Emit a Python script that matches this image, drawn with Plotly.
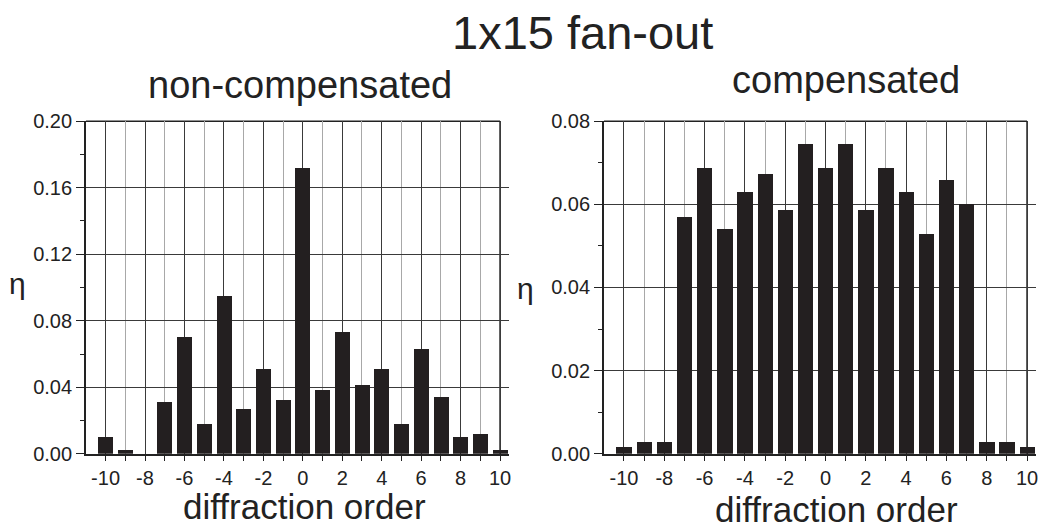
import plotly.graph_objects as go

# ---- data ----
orders = list(range(-10, 11))
eta_noncomp = [0.010, 0.002, 0.000, 0.031, 0.070, 0.018, 0.095, 0.027, 0.051, 0.032,
               0.172, 0.038, 0.073, 0.041, 0.051, 0.018, 0.063, 0.034, 0.010, 0.012, 0.002]
eta_comp = [0.0015, 0.0029, 0.0029, 0.0570, 0.0688, 0.0541, 0.0629, 0.0673, 0.0585, 0.0745,
            0.0688, 0.0745, 0.0585, 0.0688, 0.0629, 0.0527, 0.0658, 0.0600, 0.0029, 0.0029, 0.0015]
x_ticks = [-10, -8, -6, -4, -2, 0, 2, 4, 6, 8, 10]
x_min, x_frame, x_max = -11, 10, 10.45

W, H = 1047, 529
FONT = "Liberation Sans, Arial, Helvetica, sans-serif"
BAR = "#231f20"
GRID_MAJ = "#3a3a3a"
GRID_MIN = "#a8a8a8"
LINE = "#222"

fig = go.Figure()
fig.add_trace(go.Bar(x=orders, y=eta_noncomp, width=0.76, marker=dict(color=BAR, line=dict(width=0)),
                     xaxis="x", yaxis="y", showlegend=False))
fig.add_trace(go.Bar(x=orders, y=eta_comp, width=0.76, marker=dict(color=BAR, line=dict(width=0)),
                     xaxis="x2", yaxis="y2", showlegend=False))

def xax(domain, anchor):
    return dict(domain=domain, anchor=anchor, range=[x_min, x_max], tickmode="array", tickvals=x_ticks,
                ticktext=[str(v) for v in x_ticks], showgrid=True, gridcolor=GRID_MAJ, gridwidth=1,
                zeroline=False, showline=True, linecolor=LINE, linewidth=1.5, mirror=False,
                ticks="outside", ticklen=5, tickwidth=1.2, tickcolor=LINE,
                minor=dict(tickvals=[v for v in orders if v % 2], showgrid=True, gridcolor=GRID_MIN,
                           gridwidth=1, ticks="outside", ticklen=5, tickwidth=1.2, tickcolor=LINE),
                tickfont=dict(family=FONT, size=20, color="#222"), fixedrange=True)

def yax(domain, anchor, rng, dt):
    return dict(domain=domain, anchor=anchor, range=rng, dtick=dt, tick0=0, tickformat=".2f",
                showgrid=True, gridcolor=GRID_MAJ, gridwidth=1, zeroline=False, showline=True,
                linecolor=LINE, linewidth=1.5, mirror=False, ticks="outside", ticklen=8,
                tickwidth=1.2, tickcolor=LINE,
                minor=dict(dtick=dt / 2, ticks="outside", ticklen=4, tickwidth=1.2, tickcolor=LINE,
                           showgrid=False),
                tickfont=dict(family=FONT, size=20, color="#222"), fixedrange=True)

ppu_l = (501 - 86) / (x_frame - x_min)
ppu_r = (1029 - 605) / (x_frame - x_min)
ydom = [1 - 462 / H, 1 - 115 / H]
fig.update_layout(
    width=W, height=H, margin=dict(l=0, r=0, t=0, b=0),
    paper_bgcolor="white", plot_bgcolor="white",
    bargap=0,
    xaxis=xax([86 / W, (86 + ppu_l * (x_max - x_min)) / W], "y"),
    yaxis=yax(ydom, "x", [0, 0.20], 0.04),
    xaxis2=xax([605 / W, (605 + ppu_r * (x_max - x_min)) / W], "y2"),
    yaxis2=yax(ydom, "x2", [0, 0.08], 0.02),
)

# frame: top and right lines ending at x = 10
for xr, yr in [("x", "y domain"), ("x2", "y2 domain")]:
    fig.add_shape(type="line", xref=xr, yref=yr, x0=x_min, x1=x_frame, y0=1, y1=1,
                  line=dict(color=LINE, width=1.5), layer="below")
    fig.add_shape(type="line", xref=xr, yref=yr, x0=x_frame, x1=x_frame, y0=0, y1=1,
                  line=dict(color=LINE, width=1.5), layer="below")

def ann(text, px, py, size):
    fig.add_annotation(text=text, x=px / W, y=1 - py / H, xref="paper", yref="paper",
                       xanchor="center", yanchor="middle", showarrow=False,
                       font=dict(family=FONT, size=size, color="#222"))

ann("1x15 fan-out", 584, 22, 47)
ann("non-compensated", 301, 77, 38)
ann("compensated", 848, 72, 38)
ann("diffraction order", 305, 517, 35)
ann("diffraction order", 838, 520, 35)
ann("η", 18, 284, 30)
ann("η", 527, 290, 30)

fig.write_html("out.html")
